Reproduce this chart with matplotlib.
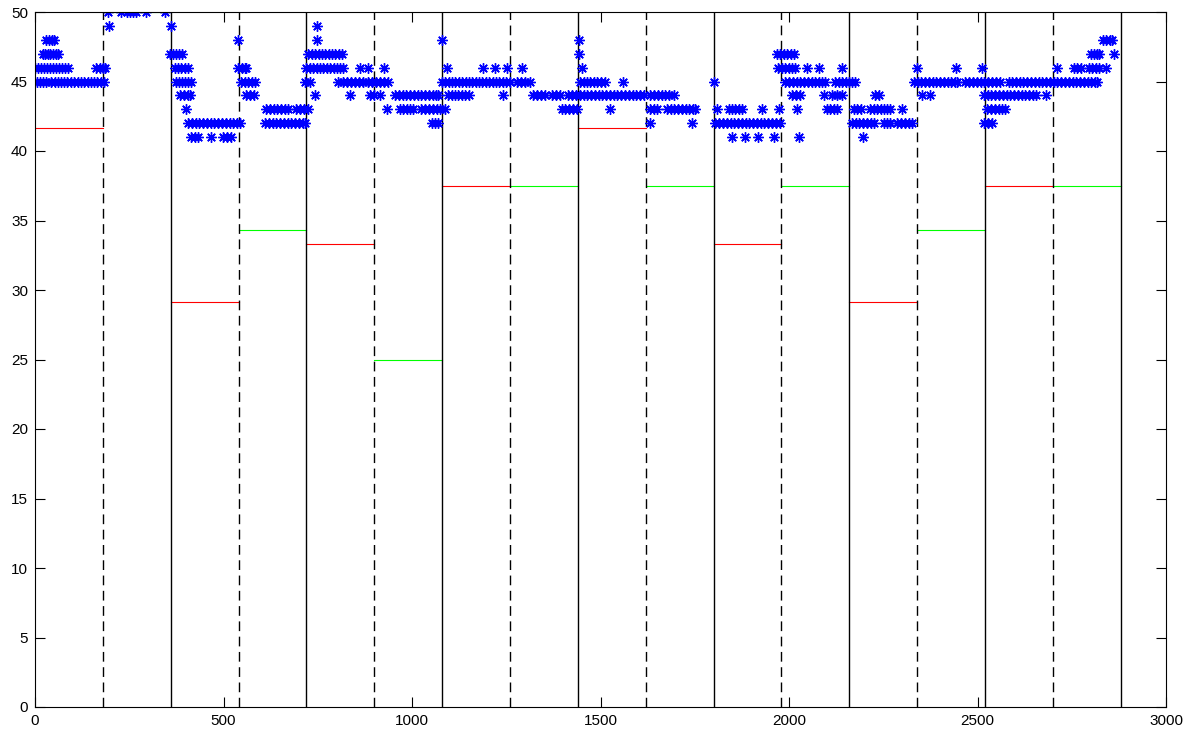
import numpy as np
import matplotlib
matplotlib.use('Agg')
import matplotlib.pyplot as plt

plt.rcParams['font.family'] = ['Liberation Sans', 'DejaVu Sans']

# blue star samples, grouped by value (x positions)
x_50 = [194, 228, 245, 252, 260, 267, 295, 345]
x_49 = [197, 362, 747]
x_48 = [30, 37, 44, 50, 539, 747, 1079, 1442, 2833, 2842, 2852, 2858]
x_47 = [20, 27, 34, 41, 48, 55, 60, 358, 366, 374, 382, 390,
        725, 734, 743, 752, 761, 770, 779, 788, 797, 806, 813, 1444,
        1968, 1977, 1986, 1995, 2004, 2012, 2800, 2808, 2816, 2822, 2862]
x_46 = [0, 8, 16, 24, 32, 40, 48, 56, 64, 72, 80, 88, 162, 172, 180, 186,
        371, 379, 388, 397, 406, 539, 548, 556, 560,
        720, 729, 738, 747, 756, 765, 774, 783, 792, 801, 810, 818,
        862, 884, 927, 1092, 1189, 1220, 1251, 1291, 1450,
        1972, 1981, 1990, 1999, 2008, 2017, 2048, 2079, 2141,
        2340, 2443, 2512, 2712, 2756, 2765, 2774, 2796, 2805, 2814, 2822, 2840]
x_45 = [5, 12, 20, 28, 43, 52, 60, 70, 78, 86, 95, 104, 113, 122, 131, 140,
        148, 156, 165, 174, 183, 374, 382, 390, 398, 406, 414,
        547, 556, 565, 575, 584, 717, 729,
        805, 816, 827, 838, 849, 860, 871, 882, 893, 904, 915, 926, 937,
        1079, 1088, 1097, 1106, 1115, 1124, 1133, 1142, 1151, 1160, 1169, 1178,
        1187, 1196, 1205, 1214, 1223, 1232, 1241, 1250, 1260,
        1278, 1290, 1300, 1313, 1446, 1455, 1464, 1473, 1482, 1491, 1500, 1512,
        1561, 1800, 1990, 2000, 2010, 2020, 2030, 2040, 2050, 2060, 2070, 2080,
        2088, 2096, 2123, 2132, 2141, 2150, 2159, 2168, 2176,
        2331, 2341, 2351, 2361, 2371, 2381, 2391, 2401, 2411, 2421, 2431, 2441,
        2446, 2468, 2478, 2488, 2498, 2508, 2518, 2528, 2538, 2548, 2561,
        2583, 2592, 2602, 2612, 2622, 2632, 2642, 2652, 2662, 2672, 2682, 2692,
        2702, 2712, 2722, 2732, 2742, 2752, 2762, 2772, 2782, 2792, 2802, 2812, 2818]
x_44 = [385, 395, 405, 410, 560, 570, 580, 742, 835, 888, 900, 915,
        955, 965, 975, 985, 995, 1005, 1015, 1025, 1035, 1045, 1055, 1063, 1070,
        1096, 1105, 1114, 1123, 1132, 1141, 1150, 1242,
        1322, 1332, 1343, 1353, 1371, 1382, 1393,
        1415, 1425, 1435, 1445, 1455, 1465, 1475, 1485, 1495, 1505, 1515, 1525,
        1535, 1545, 1555, 1565, 1575, 1585, 1595, 1605, 1615,
        1632, 1642, 1652, 1662, 1672, 1682, 1694, 2008, 2019, 2030, 2092,
        2114, 2127, 2141, 2229, 2238, 2353, 2375,
        2517, 2527, 2537, 2547, 2557, 2567, 2577, 2587, 2597, 2607, 2617, 2627,
        2637, 2647, 2654, 2681]
x_43 = [401, 613, 623, 633, 643, 653, 663, 672, 693, 703, 713, 725, 933,
        968, 977, 986, 995, 1003, 1025, 1035, 1045, 1055, 1065, 1075, 1088,
        1397, 1407, 1417, 1427, 1437, 1526, 1632, 1641, 1650,
        1676, 1686, 1696, 1706, 1716, 1726, 1736, 1745, 1751, 1809,
        1840, 1849, 1858, 1867, 1875, 1928, 1973, 2021, 2101, 2110, 2119, 2127,
        2172, 2181, 2190, 2216, 2225, 2234, 2243, 2252, 2261, 2269, 2300,
        2526, 2536, 2546, 2556, 2566, 2574]
x_42 = [406, 416, 426, 436, 446, 456, 466, 476, 486, 496, 506, 516, 526, 536, 545,
        610, 620, 630, 640, 650, 660, 670, 680, 690, 700, 710, 717,
        1052, 1061, 1070, 1632, 1743,
        1805, 1815, 1825, 1835, 1845, 1855, 1865, 1875, 1885, 1895, 1905, 1915,
        1925, 1935, 1945, 1955, 1965, 1975,
        2167, 2177, 2187, 2197, 2207, 2217, 2225, 2251, 2260, 2269,
        2287, 2297, 2307, 2317, 2326, 2517, 2528, 2539]
x_41 = [414, 424, 433, 467, 499, 510, 520, 1849, 1884, 1919, 1959, 2026, 2196]

# step lines, one value per half block of 180 samples
block_edges = [0, 180, 360, 540, 720, 900, 1080, 1260, 1440, 1620, 1800,
               1980, 2160, 2340, 2520, 2700, 2880]
red_levels = [41.67, 29.17, 33.33, 37.5, 41.67, 33.33, 29.17, 37.5]
green_levels = [50, 34.33, 25, 37.5, 37.5, 37.5, 34.33, 37.5]

star_x, star_y = [], []
for val, xs in [(50, x_50), (49, x_49), (48, x_48), (47, x_47), (46, x_46),
                (45, x_45), (44, x_44), (43, x_43), (42, x_42), (41, x_41)]:
    star_x += xs
    star_y += [val] * len(xs)

fig = plt.figure(figsize=(11.88, 7.36), dpi=100)
ax = fig.add_axes([35 / 1188, 29 / 736, 1131 / 1188, 695 / 736])

for i in range(8):
    ax.plot([block_edges[2 * i], block_edges[2 * i + 1]], [red_levels[i]] * 2,
            color='#ff0000', lw=0.8)
    ax.plot([block_edges[2 * i + 1], block_edges[2 * i + 2]], [green_levels[i]] * 2,
            color='#00ff00', lw=0.8)

for i, xe in enumerate(block_edges[1:]):
    if i % 2 == 0:
        ax.plot([xe, xe], [0, 50], color='k', lw=1, linestyle=(0, (7, 4)))
    else:
        ax.plot([xe, xe], [0, 50], color='k', lw=1)

ax.plot(star_x, star_y, linestyle='none', marker=(8, 2, 0), color='#0000ff',
        markersize=7.5, mew=1.0)

ax.set_xlim(0, 3000)
ax.set_ylim(0, 50)
ax.set_xticks(np.arange(0, 3001, 500))
ax.set_yticks(np.arange(0, 51, 5))
ax.tick_params(direction='in', length=7, width=0.8, top=True, right=True,
               labelsize=11, pad=5)
for s in ax.spines.values():
    s.set_linewidth(0.8)

fig.savefig('out.png', dpi=100)
